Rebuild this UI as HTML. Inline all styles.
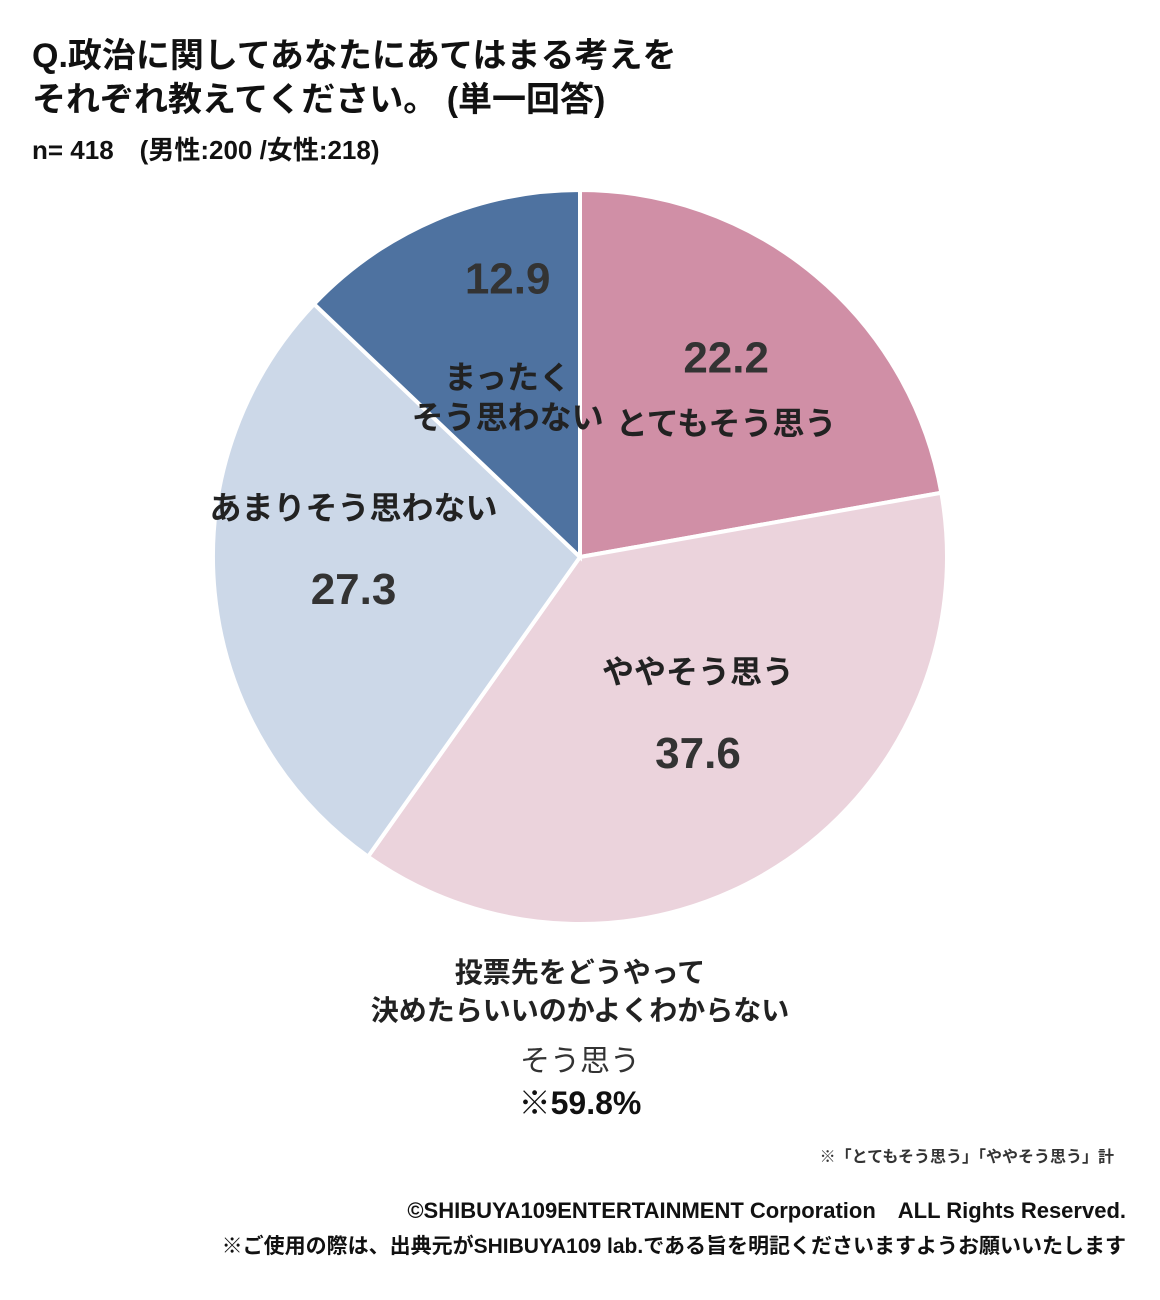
<!DOCTYPE html>
<html><head><meta charset="utf-8">
<style>
body{margin:0;width:1160px;height:1300px;background:#fff;font-family:"Liberation Sans","Noto Sans CJK JP",sans-serif;position:relative;overflow:hidden;color:#111}
.t{position:absolute;white-space:nowrap;font-weight:bold}
</style></head><body>
<div class="t" style="left:32px;top:34px;font-size:34px;line-height:44px">Q.政治に関してあなたにあてはまる考えを<br>それぞれ教えてください。 (単一回答)</div>
<div class="t" style="left:32px;top:130px;font-size:26px">n= 418　(男性:200 /女性:218)</div>
<svg id="pie" width="1160" height="1300" style="position:absolute;left:0;top:0"></svg>
<div class="t" style="left:0;width:1160px;text-align:center;top:954px;font-size:28px;line-height:38px;color:#222">投票先をどうやって<br>決めたらいいのかよくわからない</div>
<div class="t" style="left:0;width:1160px;text-align:center;top:1036px;font-size:30px;font-weight:normal;color:#333">そう思う</div>
<div class="t" style="left:0;width:1160px;text-align:center;top:1078px;font-size:32px">※59.8%</div>
<div class="t" style="right:46px;top:1143px;font-size:16px;color:#333">※「とてもそう思う」「ややそう思う」計</div>
<div class="t" style="right:34px;top:1193px;font-size:22px">©SHIBUYA109ENTERTAINMENT Corporation　ALL Rights Reserved.</div>
<div class="t" style="right:34px;top:1230px;font-size:21px">※ご使用の際は、出典元がSHIBUYA109 lab.である旨を明記くださいますようお願いいたします</div>
<script>
const categories=["とてもそう思う","ややそう思う","あまりそう思わない","まったく\nそう思わない"];
const values=[22.2,37.6,27.3,12.9];
const colors=["#D08FA6","#EBD3DC","#CCD8E8","#4E72A0"];
const svg=document.getElementById('pie');
const NS='http://www.w3.org/2000/svg';
const cx=580,cy=557,r=367;
const total=values.reduce((a,b)=>a+b,0);
function pt(a,rr){return [cx+rr*Math.sin(a),cy-rr*Math.cos(a)];}
let acc=0;
const labelPos=[[0.62,0.45],[0.6,0.6],[0.62,0.4],[0.5,0.78]];
values.forEach((v,i)=>{
  const a0=acc/total*2*Math.PI; acc+=v; const a1=acc/total*2*Math.PI;
  const [x0,y0]=pt(a0,r),[x1,y1]=pt(a1,r);
  const p=document.createElementNS(NS,'path');
  p.setAttribute('d',`M${cx},${cy}L${x0},${y0}A${r},${r} 0 ${a1-a0>Math.PI?1:0} 1 ${x1},${y1}Z`);
  p.setAttribute('fill',colors[i]);p.setAttribute('stroke','#fff');p.setAttribute('stroke-width','4');
  
  
  svg.appendChild(p);
  const mid=(a0+a1)/2;
  const [lx,ly]=pt(mid,r*labelPos[i][0]);
  const g=document.createElementNS(NS,'g');
  
  
  const lines=categories[i].split('\n');
  const valFirst=(i===0||i===3);
  const vt=document.createElementNS(NS,'text');
  vt.setAttribute('x',lx);vt.setAttribute('text-anchor','middle');
  vt.setAttribute('font-size','44');vt.setAttribute('font-weight','bold');vt.setAttribute('fill','#333');
  vt.textContent=v.toFixed(1);
  const ct=document.createElementNS(NS,'text');
  ct.setAttribute('x',lx);ct.setAttribute('text-anchor','middle');
  ct.setAttribute('font-size','32');ct.setAttribute('font-weight','bold');ct.setAttribute('fill','#222');
  lines.forEach((l,k)=>{const ts=document.createElementNS(NS,'tspan');ts.setAttribute('x',lx);ts.setAttribute('dy',k?'40':'0');ts.textContent=l;ct.appendChild(ts);});
  if(i===3){vt.setAttribute('y',ly-95);ct.setAttribute('y',ly);}
  else if(valFirst){vt.setAttribute('y',ly-10);ct.setAttribute('y',ly+52);}
  else {ct.setAttribute('y',ly-60);vt.setAttribute('y',ly+25);}
  g.appendChild(vt);g.appendChild(ct);svg.appendChild(g);
});
</script>
</body></html>
